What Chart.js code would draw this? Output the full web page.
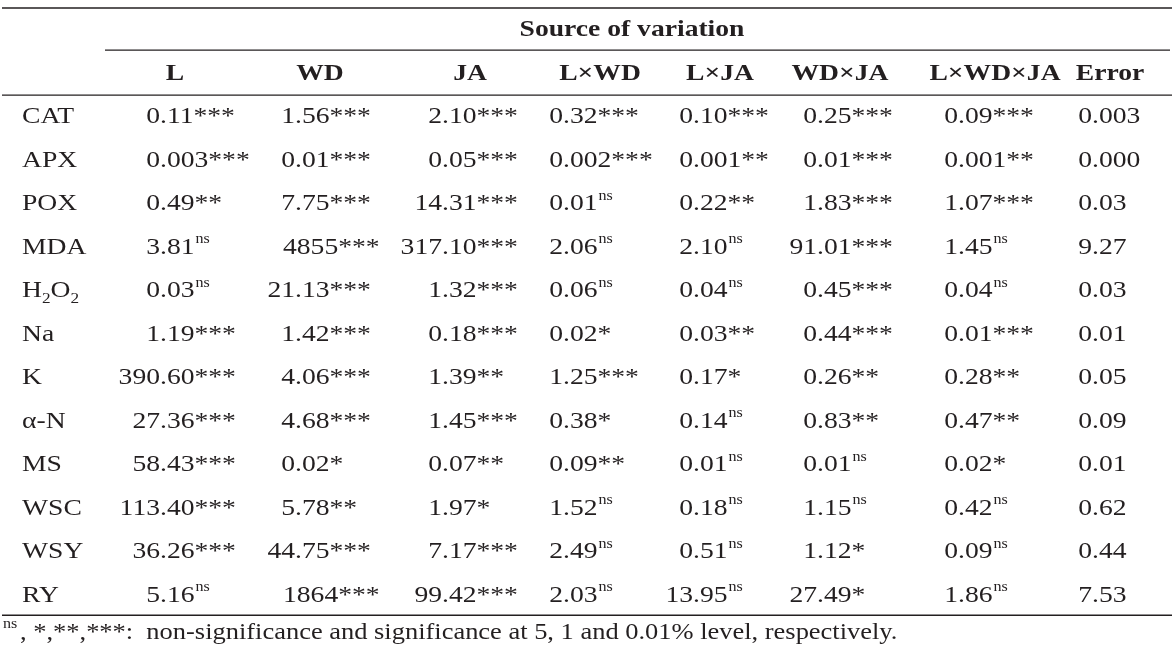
<!DOCTYPE html>
<html><head><meta charset="utf-8">
<script src="https://cdn.jsdelivr.net/npm/chart.js@4"></script>
<style>html,body{margin:0;background:#fff}#c{display:block}</style>
</head><body>
<div style="width:1174px;height:654px"><canvas id="c"></canvas></div>
<script>
// Table data -----------------------------------------------------
const title = 'Source of variation';
const columns = ['L', 'WD', 'JA', 'L×WD', 'L×JA', 'WD×JA', 'L×WD×JA', 'Error'];
const rows = ['CAT', 'APX', 'POX', 'MDA', 'H2O2', 'Na', 'K', 'α-N', 'MS', 'WSC', 'WSY', 'RY'];
const colL = ['0.11***','0.003***','0.49**','3.81ns','0.03ns','1.19***','390.60***','27.36***','58.43***','113.40***','36.26***','5.16ns'];
const colWD = ['1.56***','0.01***','7.75***','4855***','21.13***','1.42***','4.06***','4.68***','0.02*','5.78**','44.75***','1864***'];
const colJA = ['2.10***','0.05***','14.31***','317.10***','1.32***','0.18***','1.39**','1.45***','0.07**','1.97*','7.17***','99.42***'];
const colLWD = ['0.32***','0.002***','0.01ns','2.06ns','0.06ns','0.02*','1.25***','0.38*','0.09**','1.52ns','2.49ns','2.03ns'];
const colLJA = ['0.10***','0.001**','0.22**','2.10ns','0.04ns','0.03**','0.17*','0.14ns','0.01ns','0.18ns','0.51ns','13.95ns'];
const colWDJA = ['0.25***','0.01***','1.83***','91.01***','0.45***','0.44***','0.26**','0.83**','0.01ns','1.15ns','1.12*','27.49*'];
const colLWDJA = ['0.09***','0.001**','1.07***','1.45ns','0.04ns','0.01***','0.28**','0.47**','0.02*','0.42ns','0.09ns','1.86ns'];
const colError = ['0.003','0.000','0.03','9.27','0.03','0.01','0.05','0.09','0.01','0.62','0.44','7.53'];
const footnote = ':  non-significance and significance at 5, 1 and 0.01% level, respectively.';

const cells = [colL, colWD, colJA, colLWD, colLJA, colWDJA, colLWDJA, colError];

// layout (x in px, y in row units)
const headX = [175, 320, 470, 600, 720, 840, 995, 1110];
const decX = [160, 295, 442, 563, 693, 817, 958, 1092];
const intStart = [148, 283, 430, 551, 682, 806, 946, 1080];
const ink = '#231f20';
const serif = '"Liberation Serif", "Times New Roman", serif';
const SX = 1.15; // horizontal stretch of the source text

const points = [];
cells.forEach((col, ci) => col.forEach((v, ri) => points.push({x: decX[ci], y: ri, c: ci, r: ri})));

function w(ctx, s) { return ctx.measureText(s).width * SX; }
function txt(ctx, s, x, y, align) {
  const dx = align === 'center' ? -w(ctx, s) / 2 : 0;
  ctx.save(); ctx.textAlign = 'left';
  ctx.translate(x + dx, y); ctx.scale(SX, 1); ctx.fillText(s, 0, 0);
  ctx.restore();
}

function drawVal(ctx, s, xd, xs, y) {
  let sup = '';
  if (s.endsWith('ns')) { sup = 'ns'; s = s.slice(0, -2); }
  const m = s.match(/^([\d.]+)(.*)$/);
  const num = m[1], stars = m[2];
  ctx.font = '24px ' + serif;
  let x;
  if (num.includes('.')) x = xd - w(ctx, num.split('.')[0]);
  else x = xs;
  txt(ctx, num + stars, x, y);
  x += w(ctx, num + stars);
  if (sup) { ctx.font = '14px ' + serif; txt(ctx, sup, x + 1, y - 8); }
}

const tablePlugin = {
  id: 'table',
  afterDatasetsDraw(chart) {
    const ctx = chart.ctx, xs = chart.scales.x, ys = chart.scales.y;
    ctx.save();
    ctx.fillStyle = ink; ctx.strokeStyle = ink; ctx.textBaseline = 'middle';
    // rules
    const rule = (x0, x1, v, lw) => { ctx.lineWidth = lw; ctx.beginPath(); ctx.moveTo(xs.getPixelForValue(x0), ys.getPixelForValue(v)); ctx.lineTo(xs.getPixelForValue(x1), ys.getPixelForValue(v)); ctx.stroke(); };
    rule(2, 1172, -2.506, 1.5);
    rule(105, 1170, -1.54, 1.2);
    rule(2, 1172, -0.506, 1.2);
    rule(2, 1172, 11.45, 1.5);
    // headers
    ctx.font = 'bold 24px ' + serif;
    txt(ctx, title, xs.getPixelForValue(632), ys.getPixelForValue(-2), 'center');
    columns.forEach((c, i) => txt(ctx, c, xs.getPixelForValue(headX[i]), ys.getPixelForValue(-1), 'center'));
    // row labels
    rows.forEach((r, i) => {
      const y = ys.getPixelForValue(i);
      ctx.font = '24px ' + serif;
      if (r === 'H2O2') {
        let x = 22;
        ['H', '2', 'O', '2'].forEach((p, k) => {
          ctx.font = (k % 2 ? '15px ' : '24px ') + serif;
          txt(ctx, p, x, y + (k % 2 ? 8 : 0));
          x += w(ctx, p);
        });
      } else txt(ctx, r, 22, y);
    });
    // cells
    chart.data.datasets[0].data.forEach(p => {
      drawVal(ctx, cells[p.c][p.r], xs.getPixelForValue(p.x), xs.getPixelForValue(intStart[p.c]), ys.getPixelForValue(p.y));
    });
    // footnote
    const fy = ys.getPixelForValue(11.85);
    ctx.font = '14px ' + serif; txt(ctx, 'ns', 3, fy - 8);
    ctx.font = '23px ' + serif;
    txt(ctx, ', *,**,***' + footnote, 20, fy);
    ctx.restore();
  }
};

new Chart(document.getElementById('c'), {
  type: 'scatter',
  data: { datasets: [{ data: points, pointRadius: 0 }] },
  options: {
    responsive: true, maintainAspectRatio: false, animation: false,
    layout: { padding: 0 },
    plugins: { legend: { display: false }, tooltip: { enabled: false } },
    scales: {
      x: { type: 'linear', min: 0, max: 1174, display: false },
      y: { type: 'linear', reverse: true, min: -2.69, max: 12.34, display: false }
    }
  },
  plugins: [tablePlugin]
});
</script>
</body></html>
